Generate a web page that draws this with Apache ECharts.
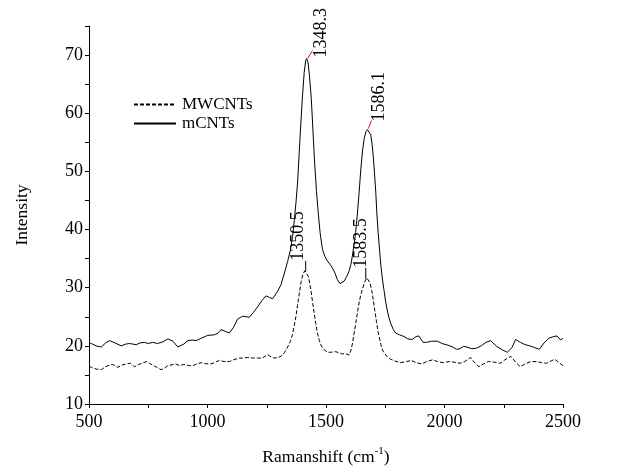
<!DOCTYPE html>
<html>
<head>
<meta charset="utf-8">
<script src="https://cdn.jsdelivr.net/npm/echarts@6/dist/echarts.min.js"></script>
<style>html,body{margin:0;padding:0;background:#fff}#c{width:621px;height:474px}</style>
</head>
<body>
<div id="c"></div>
<script>
// Raman shift (cm-1) and intensity
const mcntsX = [500,510,530,552,570,587,610,636,655,671,699,715,734,750,769,790,812,833,854,875,882,900,917,935,952,973,1001,1029,1045,1057,1075,1092,1110,1127,1148,1165,1176,1195,1211,1230,1247,1262,1275,1296,1310,1317,1328,1338,1350,1359,1366,1373,1380,1390,1400,1408,1414,1418,1424,1430,1438,1445,1452,1460,1467,1475,1485,1495,1506,1517,1527,1538,1548,1559,1567,1576,1586,1597,1605,1611,1618,1625,1632,1639,1647,1654,1661,1668,1675,1682,1689,1695,1700,1705,1710,1715,1720,1726,1731,1738,1745,1752,1759,1766,1773,1784,1794,1810,1829,1845,1864,1880,1892,1910,1925,1945,1970,1990,2015,2035,2050,2065,2080,2095,2115,2135,2155,2175,2195,2220,2245,2265,2285,2300,2320,2340,2360,2380,2400,2420,2440,2460,2475,2490,2500];
const mcntsY = [20.5,20.4,20.0,19.8,20.5,20.9,20.5,20.0,20.3,20.4,20.2,20.5,20.6,20.4,20.6,20.4,20.7,21.2,20.8,19.8,19.6,20.3,20.9,21.0,20.9,21.3,21.8,21.9,22.2,22.8,22.5,22.2,23.2,24.6,25.1,25.0,24.9,25.8,26.7,27.8,28.6,28.3,28.1,29.4,30.5,31.5,33.0,34.5,36.5,38.8,41.5,44.5,48.0,55.5,62.5,67.0,69.0,69.4,68.8,66.5,62.5,57.0,51.5,46.5,43.0,39.5,36.6,35.4,34.6,34.0,33.4,32.5,31.4,30.7,30.8,31.1,31.8,32.8,34.0,35.4,37.3,39.5,42.5,46.0,50.4,53.5,55.6,56.8,57.2,57.0,56.3,54.5,52.3,49.5,46.4,42.5,39.5,36.5,34.0,31.5,29.5,27.5,26.0,24.8,23.9,22.8,22.2,21.9,21.6,21.2,21.1,21.6,21.7,20.6,20.6,20.8,20.8,20.4,20.1,19.8,19.4,19.5,19.9,19.8,19.5,19.6,20.0,20.6,20.9,19.9,19.3,18.9,19.7,21.1,20.6,20.2,20.0,19.7,19.4,20.5,21.3,21.6,21.7,21.0,21.3];
const mwcntsX = [500,510,531,552,566,580,600,622,640,657,675,692,710,725,741,755,769,786,804,820,832,846,864,882,900,924,938,955,973,994,1015,1035,1050,1070,1092,1110,1134,1150,1168,1190,1210,1232,1254,1268,1282,1296,1310,1324,1338,1350,1359,1366,1373,1380,1388,1395,1402,1410,1418,1425,1431,1437,1444,1450,1457,1464,1472,1480,1490,1506,1522,1541,1555,1569,1583,1597,1605,1611,1618,1626,1633,1640,1647,1654,1662,1672,1680,1686,1693,1700,1706,1713,1719,1724,1731,1738,1745,1759,1773,1790,1815,1840,1860,1880,1905,1925,1950,1970,1995,2020,2040,2065,2085,2110,2125,2145,2165,2185,2210,2235,2255,2280,2300,2320,2340,2365,2390,2410,2430,2450,2465,2480,2500];
const mwcntsY = [16.5,16.3,16.0,15.9,16.3,16.6,16.8,16.3,16.7,16.9,17.0,16.4,16.8,17.0,17.3,17.0,16.7,16.3,15.9,16.2,16.6,16.7,16.9,16.6,16.8,16.6,16.6,16.9,17.1,16.9,16.9,17.2,17.5,17.3,17.3,17.6,17.9,17.9,18.0,17.9,17.9,17.9,18.5,18.1,17.9,18.0,18.2,18.8,19.8,20.8,22.0,23.5,25.0,27.0,29.2,31.0,32.2,32.9,32.8,32.0,30.8,29.4,27.3,25.7,23.8,22.2,20.9,20.0,19.4,18.9,18.9,19.0,18.8,18.6,18.7,18.4,19.2,20.3,22.0,24.0,25.8,27.5,28.8,29.8,30.9,31.7,31.5,30.8,29.5,27.8,26.0,24.2,22.6,21.6,20.3,19.3,18.8,18.1,17.7,17.4,17.1,17.3,17.5,17.1,16.9,17.3,17.6,17.3,17.1,17.3,17.2,17.0,17.3,18.0,17.2,16.4,16.9,17.3,17.2,17.0,17.6,18.2,17.2,16.4,16.9,17.3,17.3,17.1,17.0,17.4,17.7,17.2,16.6];
const seriesNames = ['MWCNTs', 'mCNTs'];
const xTickLabels = [500, 1000, 1500, 2000, 2500];
const yTickLabels = [10, 20, 30, 40, 50, 60, 70];
// peak annotations: text, series, search window for the peak
const peakTexts = ['1348.3', '1586.1', '1350.5', '1583.5'];
const peakSeries = ['mCNTs', 'mCNTs', 'MWCNTs', 'MWCNTs'];
const peakWindows = [[1300, 1500], [1550, 1800], [1300, 1500], [1550, 1800]];

const FONT = '"Liberation Serif", "Times New Roman", serif';
const pairs = (xs, ys) => xs.map((x, i) => [x, ys[i]]);
const dataBy = { 'mCNTs': pairs(mcntsX, mcntsY), 'MWCNTs': pairs(mwcntsX, mwcntsY) };

const chart = echarts.init(document.getElementById('c'), null, { renderer: 'canvas' });
chart.setOption({
  animation: false,
  backgroundColor: '#fff',
  grid: { left: 89, right: 58, top: 26, bottom: 70, containLabel: false },
  legend: {
    orient: 'vertical', left: 133, top: 96, itemWidth: 42, itemHeight: 14, itemGap: 2,
    padding: 0,
    data: seriesNames,
    itemStyle: { opacity: 0 },
    textStyle: { fontFamily: FONT, fontSize: 17, color: '#000', padding: [0, 0, 0, 1] }
  },
  xAxis: {
    type: 'value', min: 500, max: 2500, interval: 250,
    name: '{a|Ramanshift (cm}{s|-1}{a|)}',
    nameLocation: 'middle', nameGap: 42,
    nameTextStyle: {
      rich: {
        a: { fontFamily: FONT, fontSize: 17.5, color: '#000', lineHeight: 20, verticalAlign: 'bottom' },
        s: { fontFamily: FONT, fontSize: 11, color: '#000', lineHeight: 20, verticalAlign: 'top' }
      }
    },
    axisLine: { lineStyle: { color: '#000', width: 1 } },
    axisTick: { show: true, inside: false, length: 4, lineStyle: { color: '#000' } },
    axisLabel: {
      interval: 0, color: '#000', fontFamily: FONT, fontSize: 18, margin: 9,
      formatter: v => xTickLabels.includes(v) ? String(v) : ''
    },
    splitLine: { show: false }
  },
  yAxis: {
    type: 'value', min: 10, max: 75, interval: 5,
    name: 'Intensity', nameLocation: 'middle', nameGap: 58, nameRotate: 90,
    nameTextStyle: { fontFamily: FONT, fontSize: 17.5, color: '#000' },
    axisLine: { show: true, lineStyle: { color: '#000', width: 1 } },
    axisTick: { show: true, inside: false, length: 4, lineStyle: { color: '#000' } },
    axisLabel: {
      interval: 0, color: '#000', fontFamily: FONT, fontSize: 18, margin: 6,
      formatter: v => yTickLabels.includes(v) ? String(v) : ''
    },
    splitLine: { show: false }
  },
  series: [
    { name: 'MWCNTs', type: 'line', data: dataBy['MWCNTs'], symbol: 'none', smooth: false,
      lineStyle: { color: '#000', width: 1, type: [4, 2] }, itemStyle: { color: '#000' } },
    { name: 'mCNTs', type: 'line', data: dataBy['mCNTs'], symbol: 'none', smooth: false,
      lineStyle: { color: '#000', width: 1, type: 'solid' }, itemStyle: { color: '#000' } }
  ]
});

// annotation style: leader line colour and offsets in pixels
const annoStyle = [
  { stroke: 'red', line: [1, 0, 6, -8], text: [15, -1] },
  { stroke: 'red', line: [1, -1, 4, -9], text: [12, -8] },
  { stroke: '#000', line: [1, 1, 1, -10], text: [-6, -10] },
  { stroke: '#000', line: [-1, 1, -1, -10], text: [-5, -10] }
];
const graphics = [];
peakTexts.forEach((txt, i) => {
  const data = dataBy[peakSeries[i]];
  const [lo, hi] = peakWindows[i];
  let best = null;
  data.forEach(p => { if (p[0] >= lo && p[0] <= hi && (!best || p[1] > best[1])) best = p; });
  const [px, py] = chart.convertToPixel({ gridIndex: 0 }, best);
  const s = annoStyle[i];
  graphics.push({ type: 'line', silent: true,
    shape: { x1: px + s.line[0], y1: py + s.line[1], x2: px + s.line[2], y2: py + s.line[3] },
    style: { stroke: s.stroke, lineWidth: 1 } });
  graphics.push({ type: 'text', silent: true, x: px + s.text[0], y: py + s.text[1], rotation: Math.PI / 2,
    style: { text: txt, font: '18px ' + FONT, fill: '#000', align: 'left', verticalAlign: 'middle' } });
});
chart.setOption({ graphic: graphics });
</script>
</body>
</html>
